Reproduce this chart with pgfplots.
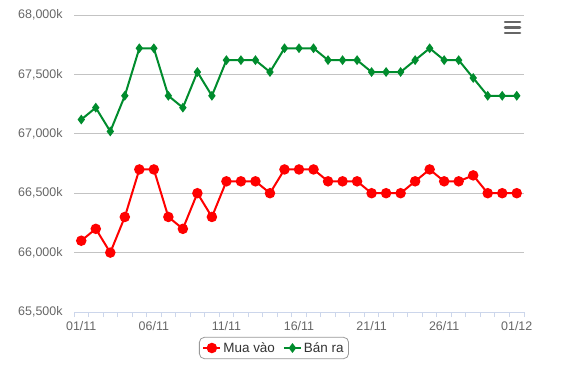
\documentclass[border=0pt]{standalone}
\usepackage{fontspec}
\setmainfont{Liberation Sans}
\usepackage{pgfplots}
\pgfplotsset{compat=1.18}
\definecolor{buyred}{RGB}{255,0,0}
\definecolor{sellgreen}{RGB}{0,140,45}
\definecolor{gridgray}{RGB}{195,195,195}
\definecolor{axisblue}{RGB}{204,214,235}
\definecolor{ticktext}{RGB}{102,102,102}
\definecolor{legtext}{RGB}{51,51,51}
\begin{document}
\begin{tikzpicture}[x=1bp,y=1bp]
\useasboundingbox (0,0) rectangle (569,386);
\begin{axis}[
  scale only axis,
  width=450bp, height=297bp,
  at={(74bp,74bp)}, anchor=south west,
  xmin=0.5, xmax=31.5,
  ymin=65500, ymax=68000,
  ytick={65500,66000,...,68000},
  scaled y ticks=false,
  xtick={1,6,11,16,21,26,31},
  xticklabels={01/11,06/11,11/11,16/11,21/11,26/11,01/12},
  minor xtick={0.5,1.5,...,31.5},
  major x tick style={draw=none},
  minor x tick style={draw=axisblue, line width=1bp},
  minor tick length=5bp,
  tick align=outside,
  axis lines*=left,
  y tick style={draw=none},
  ymajorgrids,
  grid style={draw=gridgray, line width=0.9bp},
  x axis line style={draw=axisblue, line width=1bp, -},
  y axis line style={draw=none},
  yticklabel={\pgfmathprintnumber[fixed,precision=0,1000 sep={,}]{\tick}k},
  yticklabel style={font=\fontsize{12.5}{13}\selectfont, text=ticktext, anchor=east, inner sep=0pt, xshift=-7bp},
  xticklabel style={font=\fontsize{12.5}{13}\selectfont, text=ticktext, anchor=center, inner sep=0pt, yshift=-10bp},
  /pgf/number format/assume math mode=true,
  clip=false,
  legend columns=2,
  legend style={at={(axis description cs:0.4444,-0.1212)}, anchor=center,
    draw=gray!80, rounded corners=5bp, line width=0.8bp,
    font=\fontsize{13.5}{14}\selectfont, text=legtext,
    inner xsep=3bp, inner ysep=3bp,
    /tikz/every even column/.append style={column sep=6bp}},
  legend cell align=left,
]
\addplot[buyred, line width=2bp, mark=*, mark size=4.2bp, mark options={fill=buyred, draw=none}] coordinates {
(1,66100) (2,66200) (3,66000) (4,66300) (5,66700) (6,66700) (7,66300) (8,66200) (9,66500) (10,66300)
(11,66600) (12,66600) (13,66600) (14,66500) (15,66700) (16,66700) (17,66700) (18,66600) (19,66600) (20,66600)
(21,66500) (22,66500) (23,66500) (24,66600) (25,66700) (26,66600) (27,66600) (28,66650) (29,66500) (30,66500) (31,66500)
};
\addlegendentry{Mua vào}
\addplot[sellgreen, line width=2bp, mark=diamond*, mark size=3.3bp, mark options={fill=sellgreen, draw=none}] coordinates {
(1,67120) (2,67220) (3,67020) (4,67320) (5,67720) (6,67720) (7,67320) (8,67220) (9,67520) (10,67320)
(11,67620) (12,67620) (13,67620) (14,67520) (15,67720) (16,67720) (17,67720) (18,67620) (19,67620) (20,67620)
(21,67520) (22,67520) (23,67520) (24,67620) (25,67720) (26,67620) (27,67620) (28,67470) (29,67320) (30,67320) (31,67320)
};
\addlegendentry{Bán ra}
\end{axis}
\draw[ticktext, line width=2.5bp, line cap=round] (505,364) -- (520,364);
\draw[ticktext, line width=2.5bp, line cap=round] (505,358.5) -- (520,358.5);
\draw[ticktext, line width=2.5bp, line cap=round] (505,353) -- (520,353);
\end{tikzpicture}
\end{document}
